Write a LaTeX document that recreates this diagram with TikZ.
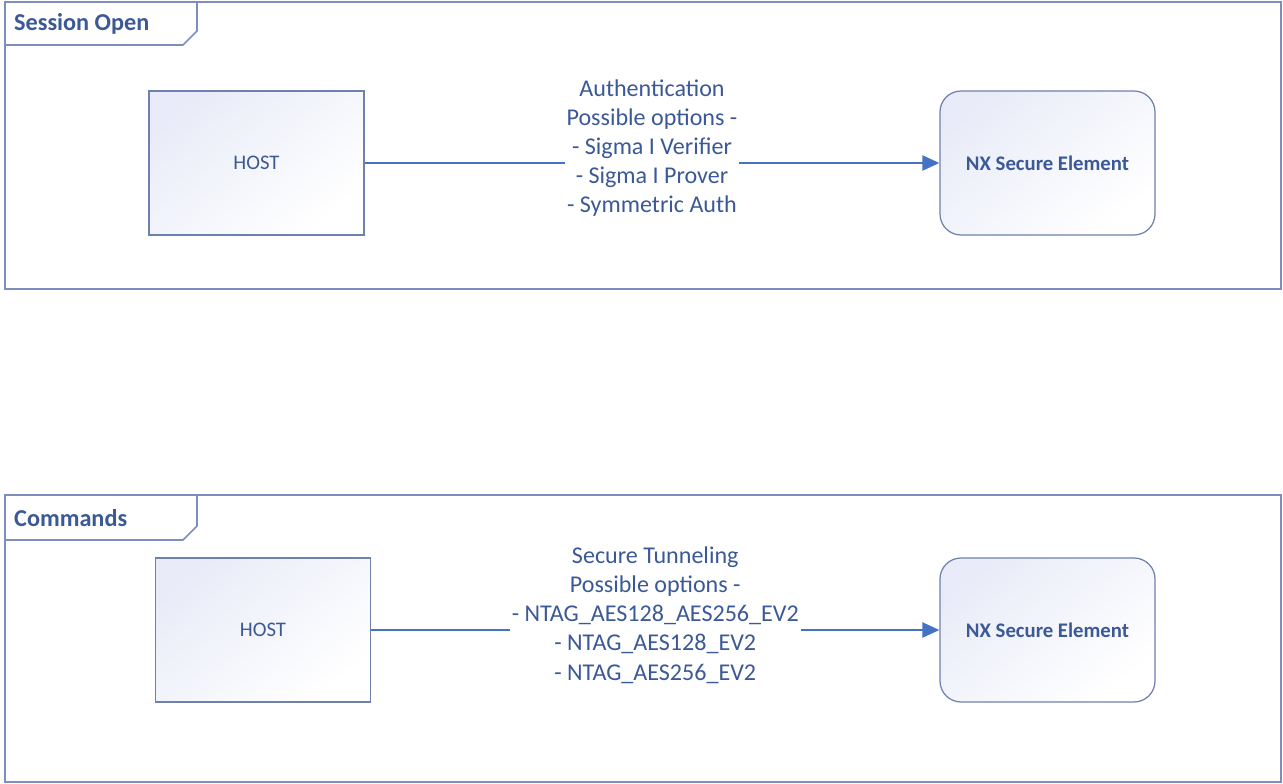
\documentclass[tikz,border=0pt]{standalone}
\usepackage{fontspec}
\setmainfont{Carlito}
\usepackage{tikz}
\usetikzlibrary{arrows.meta}
\usetikzlibrary{backgrounds,calc}
\usepackage{xcolor}
\definecolor{txtblue}{RGB}{59,89,150}
\definecolor{framec}{RGB}{125,142,190}
\definecolor{boxc}{RGB}{110,128,172}
\definecolor{arrowc}{RGB}{68,114,196}
\definecolor{shadec}{RGB}{233,236,248}
\tikzset{
  frame/.style={draw=framec, line width=0.9pt},
  hostbox/.style={draw=boxc, line width=0.7pt, minimum width=4.3cm, minimum height=2.88cm,
    top color=shadec, bottom color=white, shading angle=40, text=txtblue, font=\fontsize{11.8}{14}\selectfont},
  nxbox/.style={hostbox, rounded corners=0.42cm, font=\bfseries\fontsize{11.8}{14}\selectfont},
  link/.style={draw=arrowc, line width=1.3pt, -{Triangle[length=3.4mm,width=3mm]}},
  optlabel/.style={fill=white, align=center, text=txtblue, inner sep=1pt, font=\fontsize{13.7}{16.6}\selectfont},
  title/.style={anchor=west, text=txtblue, font=\bfseries\fontsize{13.8}{17}\selectfont}
}
\begin{document}
\begin{tikzpicture}
\useasboundingbox (0,0) rectangle (25.66,-15.68);

\draw [frame] (0.1,-0.04) rectangle (25.62,-5.78);
\draw [frame] (0.1,-0.9) -- (3.66,-0.9) -- (3.94,-0.62) -- (3.94,-0.04);
\node [title] (t1) at (0.16,-0.48) {Session Open};

\draw [frame] (0.1,-9.9) rectangle (25.62,-15.64);
\draw [frame] (0.1,-10.8) -- (3.66,-10.8) -- (3.94,-10.52) -- (3.94,-9.9);
\node [title] (t2) at (0.16,-10.36) {Commands};

\node [hostbox] (host1) at (5.13,-3.26) {HOST};
\node [nxbox] (nx1) at (20.95,-3.26) {NX Secure Element};
\node [hostbox] (host2) at (5.26,-12.6) {HOST};
\node [nxbox] (nx2) at (20.95,-12.6) {NX Secure Element};

\draw [link] (host1) -- (nx1) node [midway, optlabel, yshift=0.3cm] {Authentication\\Possible options -\\- Sigma I Verifier\\- Sigma I Prover\\- Symmetric Auth};
\draw [link] (host2) -- (nx2) node [midway, optlabel, yshift=0.3cm] {Secure Tunneling\\Possible options -\\- NTAG\_AES128\_AES256\_EV2\\- NTAG\_AES128\_EV2\\- NTAG\_AES256\_EV2};
\end{tikzpicture}
\end{document}
